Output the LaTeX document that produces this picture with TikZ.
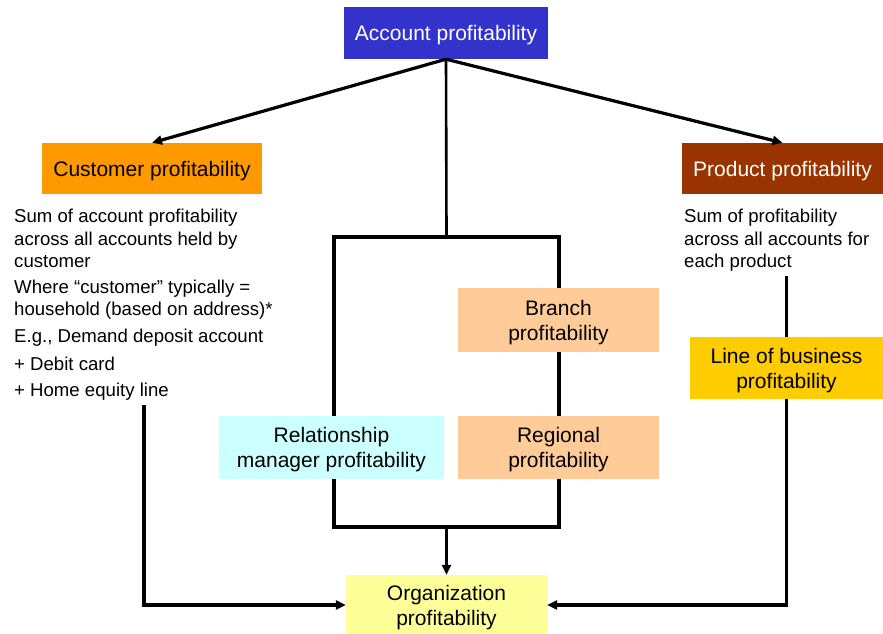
\documentclass[tikz,border=0pt]{standalone}
\usepackage{fontspec}
\setmainfont{Liberation Sans}
\usetikzlibrary{arrows.meta}
\definecolor{acctblue}{HTML}{3333CC}
\definecolor{custorange}{HTML}{FF9900}
\definecolor{prodbrown}{HTML}{993300}
\definecolor{lobyellow}{HTML}{FFCC00}
\definecolor{peach}{HTML}{FFCC99}
\definecolor{palecyan}{HTML}{CCFFFF}
\definecolor{paleyellow}{HTML}{FFFF99}
\begin{document}
\begin{tikzpicture}[x=1pt,y=-1pt,
  box/.style={rectangle, inner sep=0pt, text depth=0pt, align=center, font=\fontsize{21}{25}\selectfont},
  note/.style={anchor=base west, inner sep=0pt, font=\fontsize{18.6}{22.5}\selectfont},
  link/.style={line width=3.2pt},
  arr/.style={link, -{Triangle[length=10pt,width=9pt]}},
]
\useasboundingbox (0,0) rectangle (883,634);

% grouping frame behind the middle boxes
\node[draw, line width=3.2pt, minimum width=225pt, minimum height=290pt, inner sep=0pt] (frame) at (446.5,382) {};

% boxes
\node[box, fill=acctblue, text=white, minimum width=204pt, minimum height=52pt] (acc) at (446,33) {Account profitability};
\node[box, fill=custorange, minimum width=220pt, minimum height=51pt] (cust) at (152,168.5) {Customer profitability};
\node[box, fill=prodbrown, text=white, minimum width=201pt, minimum height=51pt] (prod) at (782.5,168.5) {Product profitability};
\node[box, fill=peach, minimum width=201pt, minimum height=64pt] (branch) at (558.5,320) {Branch\\profitability};
\node[box, fill=peach, minimum width=201pt, minimum height=63pt] (region) at (558.5,447.5) {Regional\\profitability};
\node[box, fill=palecyan, minimum width=225pt, minimum height=63pt] (rm) at (331.5,447.5) {Relationship\\manager profitability};
\node[box, fill=lobyellow, minimum width=193pt, minimum height=62pt] (lob) at (786.5,368) {Line of business\\profitability};
\node[box, fill=paleyellow, minimum width=201pt, minimum height=60pt] (org) at (446.5,605) {Organization\\profitability};

% customer notes
\node[note] (c1) at (14,222) {Sum of account profitability};
\node[note] (c2) at (14,245) {across all accounts held by};
\node[note] (c3) at (14,267) {customer};
\node[note] (c4) at (14,293) {Where “customer” typically =};
\node[note] (c5) at (14,315) {household (based on address)*};
\node[note] (c6) at (14,342) {E.g., Demand deposit account};
\node[note] (c7) at (14,370) {+ Debit card};
\node[note] (c8) at (14,396) {+ Home equity line};

% product notes
\node[note] (p1) at (684,222) {Sum of profitability};
\node[note] (p2) at (684,245) {across all accounts for};
\node[note] (p3) at (684,267) {each product};

% connectors
\draw[arr] (acc.south) -- (cust.north);
\draw[arr] (acc.south) -- (prod.north);
\draw[line width=2.6pt] (acc.south) -- (frame.north);
\draw[arr] (frame.south) -- (org.north);

\coordinate (cdrop) at (144,405);
\draw[arr] (cdrop) |- (org.west);

\coordinate (pdrop) at (786.5,276);
\draw[link] (pdrop) -- (lob.north);
\draw[arr] (lob.south) |- (org.east);
\end{tikzpicture}
\end{document}
